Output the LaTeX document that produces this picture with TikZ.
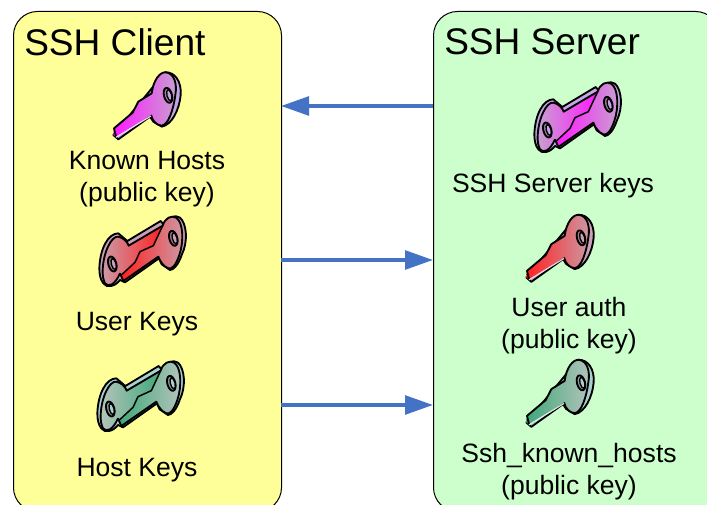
\documentclass[tikz,border=0pt]{standalone}
\usepackage{fontspec}
\setmainfont{Liberation Sans}
\usetikzlibrary{arrows.meta}
\tikzset{
  px/.style={x=0.75pt,y=-0.75pt},
  panel/.style={draw=black,line width=0.75pt,rounded corners=18pt,inner sep=0},
  flow/.style={draw=flowblue,line width=2.8pt,-{Triangle[length=21pt,width=14pt]}},
  title/.style={font=\fontsize{27.8pt}{30pt}\selectfont,anchor=west,inner sep=0},
  label/.style={font=\fontsize{19.9pt}{24.2pt}\selectfont,align=center,inner sep=0},
  keyline/.style={draw=black,line width=1.4pt,line join=round}
}
\definecolor{flowblue}{HTML}{4472C4}
\definecolor{yel}{HTML}{FFFF99}
\definecolor{grn}{HTML}{CCFFCC}
\definecolor{kmag}{HTML}{FF19FF}
\definecolor{kmagb}{HTML}{C8A0D0}
\definecolor{kmage}{HTML}{C4A6E6}
\definecolor{kred}{HTML}{FF2020}
\definecolor{kredb}{HTML}{CC9AA6}
\definecolor{krede}{HTML}{C9A0B8}
\definecolor{kgrn}{HTML}{40A878}
\definecolor{kgrnb}{HTML}{B4C4BC}
\definecolor{kgrne}{HTML}{A8D0D0}
% single key: coordinates are those of a 330x270 crop, scaled to a third
\newcommand\singlekey[5]{% x, y, blade colour, head colour, edge colour
\begin{scope}[shift={(#1,#2)},x=0.25pt,y=-0.25pt]
  \path[keyline,fill=#5] (225,37) .. controls (255,35) and (275,65) .. (272,105)
    .. controls (268,150) and (245,195) .. (215,200) -- (190,185) -- (180,170) -- (85,238) -- (70,225) -- cycle;
  \shade[left color=#3,middle color=#3!65!#4,right color=#4] (70,225) -- (72,205) -- (128,158) -- (145,125) -- (185,100)
    .. controls (190,60) and (210,35) .. (228,37)
    .. controls (252,40) and (262,70) .. (256,105)
    .. controls (250,150) and (235,195) .. (215,197)
    .. controls (200,195) and (188,185) .. (183,165) -- (78,230) -- cycle;
  \draw[keyline] (78,230) -- (72,205) -- (128,158) -- (145,125) -- (185,100)
    .. controls (190,60) and (210,35) .. (228,37)
    .. controls (252,40) and (262,70) .. (256,105)
    .. controls (250,150) and (235,195) .. (215,197)
    .. controls (200,195) and (188,185) .. (183,165);
  \draw[line width=0.8pt,white!60!#5] (78,232) -- (183,168);
  \path[keyline,fill=#4!80!black] (234,106) ellipse[x radius=12,y radius=23,rotate=15];
  \path[draw=black,line width=1pt,fill=#5] (238,106) ellipse[x radius=7,y radius=17,rotate=15];
\end{scope}}
% double key: two keys facing, split along the zigzag
\newcommand\doublekey[5]{%
\begin{scope}[shift={(#1,#2)},x=0.25pt,y=-0.25pt]
  \path[keyline,fill=#5] (28,190) .. controls (30,130) and (55,85) .. (85,85) -- (112,108) -- (212,48) -- (222,60)
    .. controls (235,35) and (255,28) .. (270,38)
    .. controls (290,55) and (295,110) .. (275,150)
    .. controls (265,180) and (250,195) .. (240,195) -- (215,178) -- (207,160) -- (105,232) -- (90,225)
    .. controls (75,245) and (50,250) .. (40,235) .. controls (32,225) and (28,210) .. (28,190) -- cycle;
  \shade[left color=#4,middle color=#3!35!#4,right color=#3] (38,195) .. controls (40,140) and (65,92) .. (85,95)
    .. controls (100,98) and (112,110) .. (116,122) -- (218,62) -- (190,122) -- (150,140) -- (135,172) -- (92,212) -- (90,205)
    .. controls (75,240) and (55,248) .. (45,235) .. controls (40,225) and (37,210) .. (38,195) -- cycle;
  \shade[left color=#3,middle color=#3!35!#4,right color=#4] (92,212) -- (135,172) -- (150,140) -- (190,122) -- (218,62)
    .. controls (225,38) and (245,30) .. (258,38)
    .. controls (280,50) and (282,110) .. (268,150)
    .. controls (258,180) and (245,195) .. (235,190)
    .. controls (222,185) and (210,170) .. (205,155) -- (100,228) -- cycle;
  \draw[line width=1.1pt,black] (92,212) -- (135,172) -- (150,140) -- (190,122) -- (218,62);
  \draw[keyline] (90,205) .. controls (75,240) and (55,248) .. (45,235) .. controls (40,225) and (37,210) .. (38,195)
    .. controls (40,140) and (65,92) .. (85,95)
    .. controls (100,98) and (112,110) .. (116,122) -- (218,62)
    .. controls (225,38) and (245,30) .. (258,38)
    .. controls (280,50) and (282,110) .. (268,150)
    .. controls (258,180) and (245,195) .. (235,190)
    .. controls (222,185) and (210,170) .. (205,155) -- (100,228) -- (90,205);
  \path[keyline,fill=#4!80!black] (67,177) ellipse[x radius=12,y radius=23,rotate=15];
  \path[draw=black,line width=1pt,fill=#5] (71,177) ellipse[x radius=7,y radius=17,rotate=15];
  \path[keyline,fill=#4!80!black] (250,100) ellipse[x radius=12,y radius=23,rotate=15];
  \path[draw=black,line width=1pt,fill=#5] (254,100) ellipse[x radius=7,y radius=17,rotate=15];
\end{scope}}
\begin{document}
\begin{tikzpicture}[px]
  \useasboundingbox (0,0) rectangle (707,505);
  \clip (0,0) rectangle (707,505);
  \fill[white] (0,0) rectangle (707,505);
  \node[panel,fill=yel,minimum width=201pt,minimum height=375pt,anchor=north west] (client) at (13,11) {};
  \node[panel,fill=grn,minimum width=214.5pt,minimum height=375pt,anchor=north west] (server) at (433,11) {};
  \node[title] (ct) at (24,42) {SSH Client};
  \node[title] (st) at (444,42) {SSH Server};
  \singlekey{90}{60}{kmag}{kmagb}{kmage}
  \doublekey{90}{205}{kred}{kredb}{krede}
  \doublekey{88}{350}{kgrn}{kgrnb}{kgrne}
  \doublekey{525}{71}{kmag}{kmagb}{kmage}
  \singlekey{503}{202.5}{kred}{kredb}{krede}
  \singlekey{503}{347.5}{kgrn}{kgrnb}{kgrne}
  \node[label] (l1) at (147,179) {Known Hosts\\(public key)};
  \node[label] (l2) at (137,324) {User Keys};
  \node[label] (l3) at (137,470) {Host Keys};
  \node[label] (l4) at (553,186) {SSH Server keys};
  \node[label] (l5) at (569,326) {User auth\\(public key)};
  \node[label] (l6) at (569,472) {Ssh\_known\_hosts\\(public key)};
  \coordinate (c1) at (281,106); \coordinate (s1) at (433,106);
  \coordinate (c2) at (281,260); \coordinate (s2) at (433,260);
  \coordinate (c3) at (281,405); \coordinate (s3) at (433,405);
  \draw[flow] (s1) -- (c1);
  \draw[flow] (c2) -- (s2);
  \draw[flow] (c3) -- (s3);
\end{tikzpicture}
\end{document}
